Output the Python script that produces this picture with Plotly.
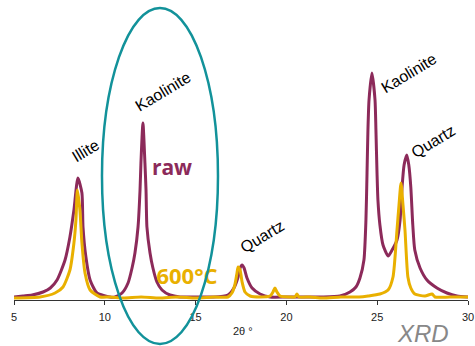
import plotly.graph_objects as go

# 2θ (degrees) and intensity (a.u.)
raw_2theta = [5.00, 5.50, 6.00, 6.60, 7.00, 7.37, 7.81, 8.08, 8.30, 8.52, 8.74, 8.80, 8.96, 9.19, 9.57,
              10.29, 10.56, 10.95, 11.28, 11.50, 11.66, 11.83, 11.94, 11.99, 12.10, 12.21, 12.27, 12.32,
              12.49, 12.65, 12.87, 13.15, 13.59, 14.14, 15.00, 16.00, 16.78, 17.11, 17.34, 17.45, 17.56,
              17.67, 17.83, 18.11, 18.55, 19.10, 20.00, 21.00, 22.00, 22.95, 23.50, 23.83, 24.05, 24.27,
              24.38, 24.44, 24.49, 24.55, 24.71, 24.88, 24.93, 24.99, 25.04, 25.15, 25.32, 25.60, 25.82,
              26.09, 26.26, 26.37, 26.48, 26.63, 26.74, 26.85, 26.96, 27.07, 27.36, 27.74, 28.29, 28.84,
              29.39, 30.00]
raw_intensity = [3, 4, 5, 8, 12, 20, 40, 63, 90, 122, 107, 73, 43, 20, 7,
                 3, 3, 7, 17, 32, 47, 73, 110, 137, 177, 137, 110, 73,
                 47, 32, 18, 10, 5, 3, 3, 3, 5, 12, 23, 32, 35,
                 32, 22, 12, 6, 3, 3, 3, 3, 4, 8, 13, 22, 40,
                 80, 127, 170, 200, 227, 200, 170, 127, 100, 75, 55, 44, 50,
                 60, 80, 113, 135, 145, 135, 113, 75, 50, 32, 20, 12, 7,
                 4, 3]

c600_2theta = [5.00, 6.43, 7.26, 7.70, 8.08, 8.30, 8.41, 8.49, 8.63, 8.74, 8.91, 9.19, 9.74, 10.29,
               11.0, 12.0, 13.0, 14.0, 15.0, 16.0, 16.78, 17.00, 17.16, 17.28, 17.34, 17.45, 17.56,
               17.72, 18.00, 18.55, 19.10, 19.26, 19.37, 19.48, 19.65, 20.20, 20.47, 20.58, 20.69,
               21.30, 22.0, 23.0, 24.0, 24.5, 25.15, 25.60, 25.87, 26.09, 26.20, 26.31, 26.42, 26.53,
               26.69, 26.85, 27.07, 27.63, 28.02, 28.18, 29.0, 30.0]
c600_intensity = [2, 3, 7, 13, 30, 57, 80, 110, 90, 57, 27, 10, 3, 3,
                  2, 3, 2, 3, 2, 3, 3, 7, 15, 27, 33, 30, 18,
                  8, 4, 3, 4, 8, 12, 8, 4, 3, 3, 6, 3,
                  3, 2, 3, 3, 4, 6, 10, 23, 70, 95, 117, 95, 70,
                  23, 12, 6, 4, 6, 3, 3, 3]

x_ticks = [5, 10, 15, 20, 25, 30]

MAROON = "#8c2a5a"
GOLD = "#e9b000"
TEAL = "#12929a"

fig = go.Figure()
fig.add_trace(go.Scatter(x=raw_2theta, y=raw_intensity, mode="lines",
                         line=dict(color=MAROON, width=3, shape="spline", smoothing=0.6),
                         hoverinfo="skip", showlegend=False))
fig.add_trace(go.Scatter(x=c600_2theta, y=c600_intensity, mode="lines",
                         line=dict(color=GOLD, width=3, shape="spline", smoothing=0.6),
                         hoverinfo="skip", showlegend=False))
# series labels as text traces (so the ellipse can overlay them)
fig.add_trace(go.Scatter(x=[13.70], y=[130], mode="text", text=["raw"],
                         textfont=dict(family="Open Sans", size=21, color=MAROON, weight="bold"),
                         hoverinfo="skip", showlegend=False))
fig.add_trace(go.Scatter(x=[14.53], y=[22], mode="text", text=["600°C"],
                         textfont=dict(family="Open Sans", size=22, color=GOLD, weight="bold"),
                         hoverinfo="skip", showlegend=False))

labels = [("Illite", 8.96, 150), ("Kaolinite", 13.20, 209), ("Quartz", 18.66, 64),
          ("Kaolinite", 26.70, 227), ("Quartz", 28.07, 159)]
for t, x, y in labels:
    fig.add_annotation(x=x, y=y, xref="x", yref="y", text=t, showarrow=False, textangle=-31,
                       font=dict(family="Liberation Sans, Arial", size=16, color="#000"))

fig.add_annotation(x=0.504, y=-0.103, xref="paper", yref="paper", text="2θ °", showarrow=False,
                   xanchor="center", yanchor="middle",
                   font=dict(family="Liberation Sans, Arial", size=11, color="#222"))
fig.add_annotation(x=0.901, y=-0.11, xref="paper", yref="paper", text="<i>XRD</i>", showarrow=False,
                   xanchor="center", yanchor="middle",
                   font=dict(family="Liberation Sans, Arial", size=24, color="#888888"))

fig.add_shape(type="circle", xref="paper", yref="paper", x0=0.1938, x1=0.4493, y0=-0.1467, y1=0.9733,
              line=dict(color=TEAL, width=2.5), layer="above")

fig.update_layout(
    width=475, height=346,
    margin=dict(l=14, r=7, t=0, b=46),
    paper_bgcolor="white", plot_bgcolor="white",
    xaxis=dict(range=[5, 30], tickvals=x_ticks, ticktext=[str(v) for v in x_ticks],
               showgrid=False, zeroline=False, showline=True, linecolor="#333", linewidth=1,
               ticks="outside", ticklen=4, tickcolor="#333", ticklabelstandoff=3,
               tickfont=dict(family="Liberation Sans, Arial", size=11, color="#222")),
    yaxis=dict(range=[0, 300], visible=False),
)

fig.write_html("out.html", config={"displayModeBar": False},
               post_script="document.body.style.margin='0';document.body.style.overflow='hidden';")
